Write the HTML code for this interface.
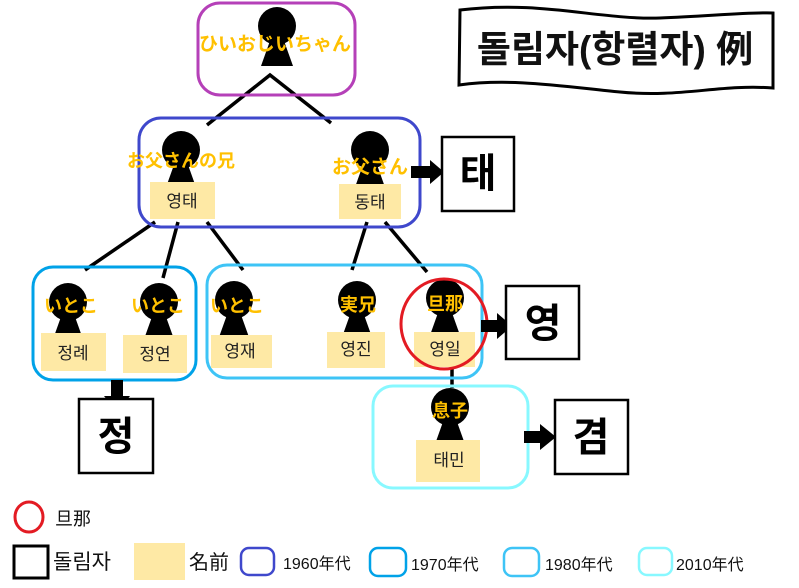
<!DOCTYPE html>
<html><head><meta charset="utf-8"><style>
html,body{margin:0;padding:0;background:#fff}
svg{display:block}
.lb{font-family:"Liberation Sans","Noto Sans CJK JP",sans-serif;font-weight:bold;fill:#FFC000;text-anchor:middle}
.nm{font-family:"Liberation Sans","Noto Sans CJK KR",sans-serif;fill:#222;text-anchor:middle;font-size:17px}
.big{font-family:"Liberation Sans","Noto Sans CJK KR",sans-serif;font-weight:bold;fill:#000;text-anchor:middle;font-size:40px}
.lg{font-family:"Liberation Sans","Noto Sans CJK JP",sans-serif;fill:#111}
</style></head><body>
<svg width="799" height="588" viewBox="0 0 799 588" xmlns="http://www.w3.org/2000/svg">
<defs>
<g id="p"><circle cx="0" cy="0" r="19" fill="#000"/><polygon points="-6,12 6,12 16,40 -16,40" fill="#000"/></g>
</defs>
<!-- title banner -->
<path d="M460,10 C540,0 600,20 660,18 C710,16 750,12 773,13 L773,88 C720,84 680,98 620,92 C560,86 510,78 459,85 Z" fill="#fff" stroke="#000" stroke-width="3"/>
<text x="615" y="62" class="lg" style="font-weight:bold;font-size:37px;text-anchor:middle;font-family:'Liberation Sans','Noto Sans CJK KR',sans-serif">돌림자(항렬자) 例</text>

<!-- connectors -->
<g stroke="#000" stroke-width="3.5" fill="none">
<path d="M207,125 L270,75 L331,123"/>
<path d="M155,222 L85,270"/><path d="M178,222 L163,278"/><path d="M207,222 L243,270"/>
<path d="M367,222 L352,270"/><path d="M385,222 L427,272"/>
<path d="M452,366 L452,388"/>
</g>

<!-- boxes -->
<rect x="198" y="3" width="157" height="92" rx="22" fill="none" stroke="#B540B8" stroke-width="3"/>
<rect x="139" y="118" width="281" height="109" rx="22" fill="none" stroke="#3F48CC" stroke-width="3"/>
<rect x="33" y="267" width="163" height="113" rx="20" fill="none" stroke="#00A2E8" stroke-width="3"/>
<rect x="207" y="265" width="275" height="113" rx="20" fill="none" stroke="#3EC4F6" stroke-width="3"/>
<rect x="373" y="386" width="155" height="102" rx="20" fill="none" stroke="#88F8FF" stroke-width="3"/>

<!-- persons -->
<use href="#p" x="277" y="26"/>
<text x="275" y="50" class="lb" font-size="19">ひいおじいちゃん</text>

<use href="#p" x="181" y="150"/>
<rect x="150" y="182" width="65" height="37" fill="#FEE9A5"/>
<text x="181" y="167" class="lb" font-size="18">お父さんの兄</text>
<text x="182" y="207" class="nm">영태</text>

<use href="#p" x="370" y="150"/>
<rect x="339" y="184" width="62" height="35" fill="#FEE9A5"/>
<text x="370" y="173" class="lb" font-size="19">お父さん</text>
<text x="370" y="208" class="nm">동태</text>

<use href="#p" x="68" y="302"/>
<rect x="41" y="333" width="65" height="38" fill="#FEE9A5"/>
<text x="71" y="312" class="lb" font-size="18">いとこ</text>
<text x="73" y="359" class="nm">정례</text>

<use href="#p" x="159" y="302"/>
<rect x="123" y="335" width="64" height="38" fill="#FEE9A5"/>
<text x="158" y="312" class="lb" font-size="18">いとこ</text>
<text x="155" y="360" class="nm">정연</text>

<use href="#p" x="234" y="300"/>
<rect x="211" y="335" width="61" height="33" fill="#FEE9A5"/>
<text x="237" y="312" class="lb" font-size="18">いとこ</text>
<text x="240" y="357" class="nm">영재</text>

<use href="#p" x="357" y="300"/>
<rect x="327" y="332" width="58" height="36" fill="#FEE9A5"/>
<text x="358" y="311" class="lb" font-size="18">実兄</text>
<text x="356" y="355" class="nm">영진</text>

<use href="#p" x="445" y="298"/>
<rect x="414" y="332" width="61" height="35" fill="#FEE9A5"/>
<text x="445" y="310" class="lb" font-size="18">旦那</text>
<text x="445" y="355" class="nm">영일</text>
<ellipse cx="444" cy="324" rx="43" ry="45" fill="none" stroke="#E31B23" stroke-width="3"/>

<use href="#p" x="450" y="407"/>
<rect x="416" y="440" width="64" height="42" fill="#FEE9A5"/>
<text x="450" y="417" class="lb" font-size="18">息子</text>
<text x="449" y="466" class="nm">태민</text>

<!-- arrows -->
<g fill="#000">
<polygon points="411,166 430,166 430,160 444,172 430,184 430,178 411,178"/>
<polygon points="111,380 123,380 123,396 130,396 117,412 104,396 111,396"/>
<polygon points="481,320 497,320 497,313 512,326 497,339 497,332 481,332"/>
<polygon points="524,431 540,431 540,424 556,437 540,450 540,443 524,443"/>
</g>

<!-- dolimja boxes -->
<g fill="#fff" stroke="#000" stroke-width="2.5">
<rect x="442" y="137" width="72" height="74"/>
<rect x="79" y="399" width="74" height="74"/>
<rect x="506" y="286" width="73" height="73"/>
<rect x="555" y="400" width="73" height="74"/>
</g>
<text x="478" y="187" class="big">태</text>
<text x="116" y="450" class="big">정</text>
<text x="543" y="337" class="big">영</text>
<text x="591" y="451" class="big">겸</text>

<!-- legend -->
<ellipse cx="29" cy="517" rx="14" ry="15" fill="none" stroke="#E31B23" stroke-width="3"/>
<text x="55" y="525" class="lg" font-size="18">旦那</text>
<rect x="14" y="546" width="34" height="32" fill="none" stroke="#000" stroke-width="3"/>
<text x="53" y="569" class="lg" font-size="21">돌림자</text>
<rect x="134" y="543" width="51" height="37" fill="#FEE9A5"/>
<text x="189" y="569" class="lg" font-size="20">名前</text>
<rect x="241" y="548" width="33" height="27" rx="8" fill="none" stroke="#3F48CC" stroke-width="2.5"/>
<text x="283" y="569" class="lg" font-size="16">1960年代</text>
<rect x="370" y="548" width="36" height="28" rx="8" fill="none" stroke="#00A2E8" stroke-width="2.5"/>
<text x="411" y="570" class="lg" font-size="16">1970年代</text>
<rect x="504" y="548" width="35" height="28" rx="8" fill="none" stroke="#3EC4F6" stroke-width="2.5"/>
<text x="545" y="570" class="lg" font-size="16">1980年代</text>
<rect x="639" y="548" width="33" height="27" rx="8" fill="none" stroke="#88F8FF" stroke-width="2.5"/>
<text x="676" y="570" class="lg" font-size="16">2010年代</text>
</svg>
</body></html>
